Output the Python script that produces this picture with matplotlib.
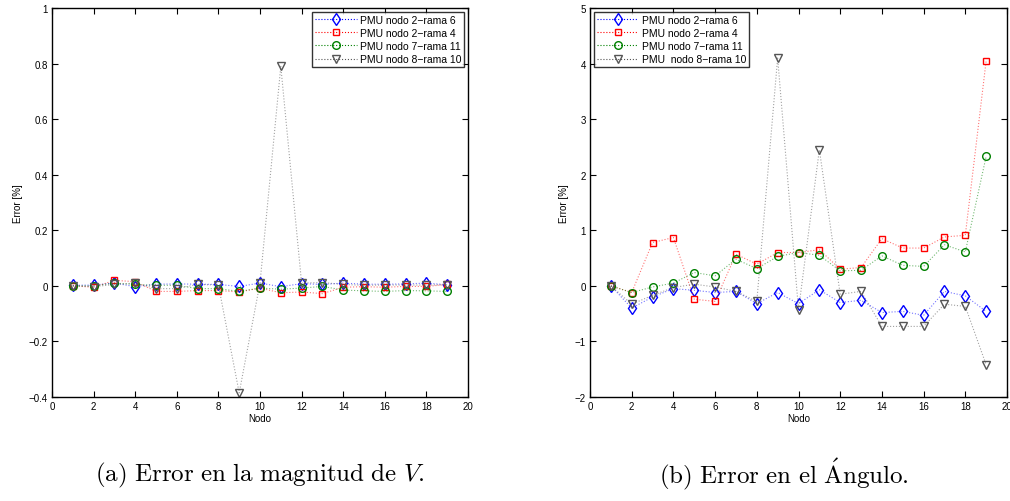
import matplotlib
matplotlib.use("Agg")
import matplotlib.pyplot as plt

plt.rcParams['font.family'] = ['Liberation Sans', 'DejaVu Sans']
plt.rcParams['mathtext.fontset'] = 'cm'

nodes = list(range(1, 20))

# (a) magnitude error [%]
mag_rama6 = [0.002, 0.003, 0.010, -0.003, 0.006, 0.007, 0.006, 0.005, -0.002, 0.010,
             -0.003, 0.008, 0.005, 0.010, 0.006, 0.006, 0.007, 0.010, 0.004]
mag_rama4 = [0.0, -0.005, 0.020, 0.015, -0.020, -0.020, -0.017, -0.017, -0.022, -0.008,
             -0.025, -0.022, -0.028, -0.005, -0.003, -0.005, -0.002, -0.002, 0.005]
mag_rama11 = [0.0, 0.0, 0.010, 0.005, 0.002, 0.002, -0.010, -0.010, -0.020, -0.008,
              -0.012, -0.008, -0.002, -0.015, -0.018, -0.020, -0.017, -0.018, -0.020]
mag_rama10 = [0.0, -0.003, 0.005, 0.010, -0.010, -0.010, 0.005, 0.003, -0.385, 0.010,
              0.790, 0.010, 0.012, 0.005, 0.002, 0.003, 0.003, 0.003, 0.004]

# (b) angle error [%]
ang_rama6 = [0.0, -0.40, -0.20, -0.05, -0.08, -0.12, -0.10, -0.32, -0.12, -0.32,
             -0.07, -0.30, -0.26, -0.48, -0.46, -0.53, -0.10, -0.18, -0.46]
ang_rama4 = [0.0, -0.12, 0.78, 0.87, -0.24, -0.28, 0.57, 0.39, 0.60, 0.60,
             0.65, 0.30, 0.33, 0.85, 0.68, 0.68, 0.88, 0.91, 4.05]
ang_rama11 = [0.0, -0.12, -0.02, 0.05, 0.24, 0.18, 0.48, 0.31, 0.53, 0.60,
              0.55, 0.27, 0.28, 0.54, 0.37, 0.35, 0.74, 0.61, 2.33]
ang_rama10 = [0.0, -0.33, -0.17, -0.03, 0.03, -0.02, -0.10, -0.28, 4.10, -0.43,
              2.45, -0.15, -0.10, -0.73, -0.73, -0.73, -0.33, -0.37, -1.42]

labels_a = ['PMU nodo 2\u2212rama 6', 'PMU nodo 2\u2212rama 4',
            'PMU nodo 7\u2212rama 11', 'PMU nodo 8\u2212rama 10']
labels_b = ['PMU nodo 2\u2212rama 6', 'PMU nodo 2\u2212rama 4',
            'PMU nodo 7\u2212rama 11', 'PMU  nodo 8\u2212rama 10']

styles = [dict(color='#0000ff', marker='d', ms=6),
          dict(color='#ff0000', marker='s', ms=5),
          dict(color='#008000', marker='o', ms=5.5),
          dict(color='#555555', marker='v', ms=6)]

fig = plt.figure(figsize=(10.1, 5.02), dpi=100)
axA = fig.add_axes([52/1010, 1-398/502, 416/1010, 389/502])
axB = fig.add_axes([590/1010, 1-398/502, 417/1010, 389/502])

def draw(ax, series, labels, ylim, yticks, loc):
    for ys, st in zip(series, styles):
        c = st['color']
        ax.plot(nodes, ys, linestyle=':', linewidth=0.8, color=c, alpha=0.55)
        ax.plot(nodes, ys, linestyle='none', marker=st['marker'], ms=st['ms'],
                mfc='none', mec=c, mew=1.0)
    handles = []
    for st, lab in zip(styles, labels):
        h, = ax.plot([], [], linestyle=':', linewidth=0.8, color=st['color'],
                     marker=st['marker'], ms=st['ms'],
                     mfc='none', mec=st['color'], mew=1.0, label=lab)
        handles.append(h)
    ax.set_xlim(0, 20)
    ax.set_xticks(range(0, 21, 2))
    ax.set_ylim(*ylim)
    ax.set_yticks(yticks)
    ax.set_yticklabels([('%g' % t).replace('-', '\u2212') for t in yticks])
    ax.tick_params(direction='in', top=True, right=True, length=4, width=0.8,
                   labelsize=7, pad=3)
    for s in ax.spines.values():
        s.set_linewidth(1.0)
    ax.set_xlabel('Nodo', fontsize=7, labelpad=1)
    ax.set_ylabel('Error [%]', fontsize=7, labelpad=4)
    leg = ax.legend(handles=handles, loc=loc, fontsize=7.5, frameon=True, fancybox=False,
                    edgecolor='black', borderpad=0.3, labelspacing=0.3,
                    handlelength=4.0, handletextpad=0.3, borderaxespad=0.35)
    leg.get_frame().set_linewidth(1.0)

draw(axA, [mag_rama6, mag_rama4, mag_rama11, mag_rama10], labels_a,
     (-0.4, 1.0), [-0.4, -0.2, 0, 0.2, 0.4, 0.6, 0.8, 1.0], 'upper right')
draw(axB, [ang_rama6, ang_rama4, ang_rama11, ang_rama10], labels_b,
     (-2, 5), [-2, -1, 0, 1, 2, 3, 4, 5], 'upper left')

fig.text(260/1010, 1-475/502, r'$\mathrm{(a)\ Error\ en\ la\ magnitud\ de\ }V\mathrm{.}$',
         fontsize=18, ha='center', va='center')
fig.text(784/1010, 1-474/502, r'$\mathrm{(b)\ Error\ en\ el\ \acute{A}ngulo.}$',
         fontsize=18, ha='center', va='center')

fig.savefig('out.png', dpi=100)
